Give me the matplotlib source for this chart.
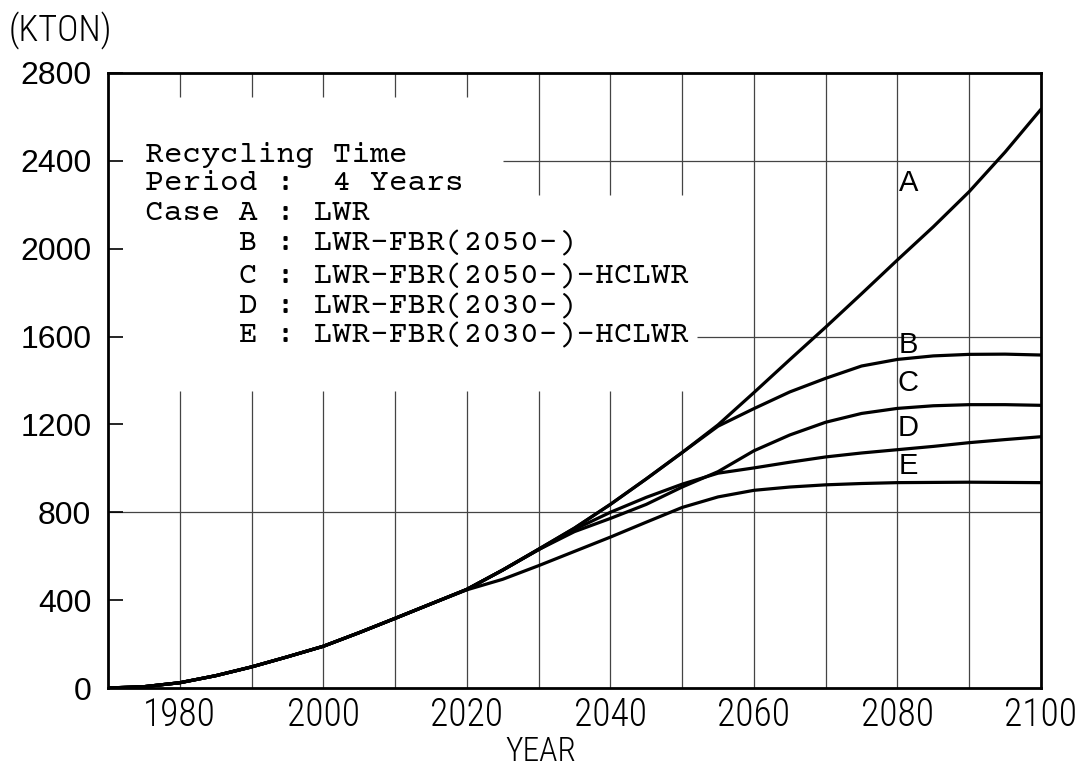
import matplotlib
matplotlib.use("Agg")
import matplotlib.pyplot as plt

# Cumulative natural uranium demand (KTON) for five reactor strategies
common_years = [1970, 1975, 1980, 1985, 1990, 1995, 2000, 2005, 2010, 2015]
common_vals = [0, 6, 24, 56, 96, 142, 190, 252, 317, 383]

years_A = common_years + [2020, 2025, 2030, 2035, 2040, 2045, 2050, 2055, 2060,
                          2065, 2070, 2075, 2080, 2085, 2090, 2095, 2100]
vals_A = common_vals + [449, 537, 632, 728, 836, 952, 1072, 1198, 1345,
                        1495, 1643, 1795, 1949, 2100, 2260, 2440, 2635]

years_B = common_years + [2020, 2025, 2030, 2035, 2040, 2045, 2050, 2055, 2060,
                          2065, 2070, 2075, 2080, 2085, 2090, 2095, 2100]
vals_B = common_vals + [449, 537, 632, 728, 836, 952, 1072, 1192, 1272,
                        1348, 1410, 1466, 1496, 1512, 1519, 1520, 1516]

years_C = common_years + [2020, 2025, 2030, 2035, 2040, 2045, 2050, 2055, 2060,
                          2065, 2070, 2075, 2080, 2085, 2090, 2095, 2100]
vals_C = common_vals + [449, 537, 630, 712, 772, 836, 915, 985, 1080,
                        1152, 1210, 1250, 1273, 1285, 1290, 1290, 1287]

years_D = common_years + [2020, 2025, 2030, 2035, 2040, 2045, 2050, 2055, 2060,
                          2065, 2070, 2075, 2080, 2085, 2090, 2095, 2100]
vals_D = common_vals + [449, 537, 630, 722, 800, 868, 928, 978, 1002,
                        1028, 1052, 1070, 1085, 1100, 1117, 1131, 1144]

years_E = common_years + [2020, 2025, 2030, 2035, 2040, 2045, 2050, 2055, 2060,
                          2065, 2070, 2075, 2080, 2090, 2100]
vals_E = common_vals + [447, 495, 557, 622, 687, 755, 822, 870, 900,
                        915, 925, 931, 935, 937, 935]

case_names = ["A", "B", "C", "D", "E"]
label_year = 2081.5
label_vals = [2300, 1560, 1390, 1185, 1010]

x_ticks = [1980, 2000, 2020, 2040, 2060, 2080, 2100]
y_ticks = [0, 400, 800, 1200, 1600, 2000, 2400, 2800]

legend_lines = [
    "Recycling Time",
    "Period :  4 Years",
    "Case A : LWR",
    "     B : LWR-FBR(2050-)",
    "     C : LWR-FBR(2050-)-HCLWR",
    "     D : LWR-FBR(2030-)",
    "     E : LWR-FBR(2030-)-HCLWR",
]

W, H = 1082, 771
fig = plt.figure(figsize=(W / 100, H / 100), dpi=100)
ax = fig.add_axes([108 / W, 1 - 688 / H, 933 / W, 615 / H])
ax.set_xlim(1970, 2100)
ax.set_ylim(0, 2800)

grid_kw = dict(color="#444444", lw=0.9, zorder=1)
# decade rules; the upper parts are cut back around the caption block
for yr in range(1980, 2100, 10):
    if yr <= 2050:
        ax.vlines(yr, 0, 1350, **grid_kw)
        top_end = 2690 if yr <= 2020 else 2245
        ax.vlines(yr, top_end, 2800, **grid_kw)
    else:
        ax.vlines(yr, 0, 2800, **grid_kw)
ax.hlines(800, 1970, 2100, **grid_kw)
ax.hlines(1600, 2052, 2100, **grid_kw)
ax.hlines(2400, 2025, 2100, **grid_kw)

series = [(years_A, vals_A), (years_B, vals_B), (years_C, vals_C),
          (years_D, vals_D), (years_E, vals_E)]
for yrs, vals in series:
    ax.plot(yrs, vals, color="black", lw=2.3, solid_joinstyle="round",
            solid_capstyle="round", zorder=3)

for name, v in zip(case_names, label_vals):
    ax.text(label_year, v, name, fontsize=21, family="Liberation Sans",
            ha="center", va="center", zorder=4)

for s in ax.spines.values():
    s.set_linewidth(2.0)

narrow = ["Roboto Condensed", "DejaVu Sans"]
ax.set_xticks(x_ticks)
ax.set_xticklabels([str(t) for t in x_ticks], family=narrow, fontsize=27,
                   fontweight="light")
ax.set_yticks(y_ticks)
ax.set_yticklabels([str(t) for t in y_ticks], family="Liberation Sans", fontsize=23)
ax.tick_params(axis="x", length=0, pad=6)
ax.tick_params(axis="y", direction="in", length=11, width=1.2, pad=12)

# caption block in a typewriter face
line_px = [155, 184, 214, 243, 276, 306, 335]
for txt, py in zip(legend_lines, line_px):
    fig.text(145 / W, 1 - py / H, txt, family=["Courier Prime", "DejaVu Sans Mono"],
             fontsize=22.5, ha="left", va="center")

fig.text(541 / W, 1 - 752 / H, "YEAR", family=narrow, fontsize=24,
         fontweight="light", ha="center", va="center")
fig.text(9 / W, 1 - 31 / H, "(KTON)", family=narrow, fontsize=26,
         fontweight="light", ha="left", va="center")

fig.savefig("out.png", dpi=100, facecolor="white")
